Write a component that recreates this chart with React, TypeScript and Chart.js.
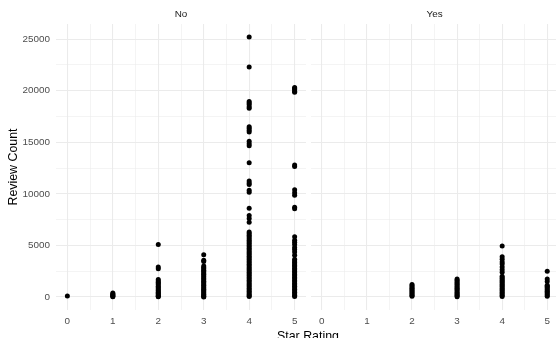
import React, { useEffect, useRef } from "react";
import { Chart, registerables } from "chart.js";

Chart.register(...registerables);

// ---- data ----
const panelLabels = ["No", "Yes"];
const starRatings = [0, 1, 2, 3, 4, 5];

const xMajorTicks = [0, 1, 2, 3, 4, 5];
const xMinorTicks = [0.5, 1.5, 2.5, 3.5, 4.5];
const yMajorTicks = [0, 5000, 10000, 15000, 20000, 25000];
const yMinorTicks = [2500, 7500, 12500, 17500, 22500];

// "No" panel: review counts by star rating
const noStar0 = [100];
const noStar1 = [380, 290, 210, 140, 80, 30];
const noStar2 = [5100, 2900, 2750, 1700, 1560, 1430, 1300, 1180, 1040, 930, 810, 690, 580, 470, 360, 250, 150, 70, 20];
const noStar3 = [4100, 3550, 3450, 3000, 2870, 2730, 2600, 2460, 2320, 2200, 2060, 1930, 1790, 1660, 1520, 1400, 1270, 1130, 1000, 880, 750, 620, 500, 380, 260, 150, 60, 10];
const noStar4 = [
  25200, 22300, 18950, 18800, 18650, 18450, 18300, 16500, 16350, 16150, 16000,
  15100, 14850, 14650, 13000, 11250, 11050, 10900, 10350, 10150, 8600, 7900, 7600, 7250,
  6300, 6150, 5980, 5830, 5660, 5510, 5350, 5200, 5040, 4890, 4730, 4580, 4420, 4270,
  4110, 3960, 3800, 3650, 3490, 3340, 3180, 3030, 2870, 2720, 2560, 2410, 2250, 2100,
  1940, 1790, 1630, 1480, 1320, 1170, 1010, 860, 700, 550, 400, 260, 130, 40,
];
const noStar5 = [
  20300, 20200, 20100, 19950, 19850, 12800, 12650, 10400, 10100, 9850, 8700, 8550,
  5850, 5500, 5300, 5100, 4800, 4600, 4350, 4050, 3650, 3500, 3350, 3210, 3060, 2920,
  2770, 2630, 2480, 2340, 2190, 2050, 1900, 1760, 1610, 1470, 1320, 1180, 1030, 890,
  740, 600, 450, 310, 170, 60,
];

// "Yes" panel: review counts by star rating
const yesStar2 = [1200, 1080, 960, 840, 720, 610, 500, 390, 280, 170, 70];
const yesStar3 = [1750, 1620, 1490, 1360, 1230, 1100, 980, 850, 720, 600, 470, 350, 230, 110, 30];
const yesStar4 = [4950, 3900, 3650, 3400, 3200, 2900, 2650, 2400, 2000, 1870, 1740, 1610, 1480, 1350, 1220, 1090, 960, 830, 700, 570, 440, 310, 180, 60];
const yesStar5 = [2500, 1750, 1500, 1150, 1030, 910, 790, 670, 550, 430, 310, 190, 80];

const noByStar: number[][] = [noStar0, noStar1, noStar2, noStar3, noStar4, noStar5];
const yesByStar: number[][] = [[], [], yesStar2, yesStar3, yesStar4, yesStar5];

// ---- style ----
const FONT = "'Liberation Sans', Arial, Helvetica, sans-serif";
const GRID = "#EBEBEB";
const TICK_SIZE = 9.9;
const TITLE_SIZE = 12.4;
const X_MIN = -0.25;
const X_MAX = 5.25;
const Y_MIN = -1260;
const Y_MAX = 26460;

function toPoints(byStar: number[][]) {
  const pts: { x: number; y: number }[] = [];
  byStar.forEach((vals, i) => {
    vals.forEach((v) => pts.push({ x: starRatings[i], y: v }));
  });
  return pts;
}

function stripPlugin(label: string) {
  return {
    id: "strip-" + label,
    afterDraw(chart: any) {
      const { ctx, chartArea } = chart;
      ctx.save();
      ctx.font = `${TICK_SIZE}px ${FONT}`;
      ctx.fillStyle = "#1A1A1A";
      ctx.textAlign = "center";
      ctx.textBaseline = "middle";
      ctx.fillText(label, (chartArea.left + chartArea.right) / 2, 14);
      ctx.restore();
    },
  };
}

const xTitlePlugin = {
  id: "xTitle",
  afterDraw(chart: any) {
    const { ctx } = chart;
    ctx.save();
    ctx.font = `${TITLE_SIZE}px ${FONT}`;
    ctx.fillStyle = "#000000";
    ctx.textAlign = "center";
    ctx.textBaseline = "alphabetic";
    ctx.fillText("Star Rating", 308, 339.5);
    ctx.restore();
  },
};

function makeConfig(panel: number): any {
  const isLeft = panel === 0;
  const data = toPoints(isLeft ? noByStar : yesByStar);
  return {
    type: "scatter",
    data: {
      datasets: [
        {
          label: panelLabels[panel],
          data,
          backgroundColor: "#000000",
          borderWidth: 0,
          pointRadius: 2.5,
          pointHoverRadius: 2.5,
        },
      ],
    },
    options: {
      animation: false,
      responsive: false,
      events: [],
      layout: {
        padding: isLeft
          ? { left: 0, right: 250, top: 24, bottom: 10 }
          : { left: 2.6, right: 0, top: 24, bottom: 10 },
      },
      plugins: {
        legend: { display: false },
        tooltip: { enabled: false },
        title: { display: false },
      },
      scales: {
        x: {
          type: "linear",
          min: X_MIN,
          max: X_MAX,
          afterBuildTicks: (scale: any) => {
            scale.ticks = [...xMajorTicks, ...xMinorTicks].sort((a, b) => a - b).map((v) => ({ value: v }));
          },
          afterFit: (scale: any) => {
            scale.height = 18;
          },
          border: { display: false },
          grid: {
            drawTicks: false,
            color: GRID,
            lineWidth: (c: any) => (xMajorTicks.includes(c.tick?.value) ? 1.07 : 0.53),
          },
          ticks: {
            autoSkip: false,
            maxRotation: 0,
            padding: 5,
            color: "#4D4D4D",
            font: { family: FONT, size: TICK_SIZE },
            callback: (v: any) => (xMajorTicks.includes(v) ? String(v) : ""),
          },
        },
        y: {
          type: "linear",
          min: Y_MIN,
          max: Y_MAX,
          afterBuildTicks: (scale: any) => {
            scale.ticks = [...yMajorTicks, ...yMinorTicks].sort((a, b) => a - b).map((v) => ({ value: v }));
          },
          afterFit: (scale: any) => {
            scale.width = isLeft ? 56 : 0;
          },
          border: { display: false },
          grid: {
            drawTicks: false,
            color: GRID,
            lineWidth: (c: any) => (yMajorTicks.includes(c.tick?.value) ? 1.07 : 0.53),
          },
          title: isLeft
            ? {
                display: true,
                text: "Review Count",
                color: "#000000",
                font: { family: FONT, size: TITLE_SIZE },
                padding: { top: 6, bottom: 0 },
              }
            : { display: false },
          ticks: {
            display: isLeft,
            autoSkip: false,
            padding: 6,
            color: "#4D4D4D",
            font: { family: FONT, size: TICK_SIZE },
            callback: (v: any) => (yMajorTicks.includes(v) ? String(v) : ""),
          },
        },
      },
    },
    plugins: isLeft ? [stripPlugin(panelLabels[0]), xTitlePlugin] : [stripPlugin(panelLabels[1])],
  };
}

export default function App() {
  const leftRef = useRef<HTMLCanvasElement | null>(null);
  const rightRef = useRef<HTMLCanvasElement | null>(null);

  useEffect(() => {
    const charts: Chart[] = [];
    if (leftRef.current) charts.push(new Chart(leftRef.current, makeConfig(0)));
    if (rightRef.current) charts.push(new Chart(rightRef.current, makeConfig(1)));
    return () => charts.forEach((c) => c.destroy());
  }, []);

  return (
    <div
      style={{
        position: "absolute",
        left: 0,
        top: 0,
        width: 556,
        height: 338,
        overflow: "hidden",
        background: "#ffffff",
      }}
    >
      <canvas
        ref={leftRef}
        width={556}
        height={338}
        style={{ position: "absolute", left: 0, top: 0, width: 556, height: 338, display: "block" }}
      />
      <canvas
        ref={rightRef}
        width={253}
        height={338}
        style={{ position: "absolute", left: 308, top: 0, width: 253, height: 338, display: "block" }}
      />
    </div>
  );
}
